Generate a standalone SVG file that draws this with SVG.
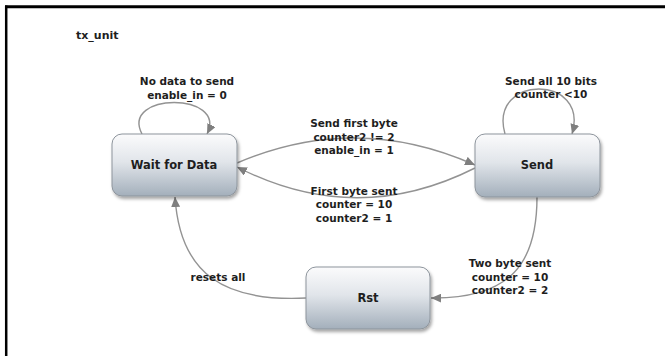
<svg xmlns="http://www.w3.org/2000/svg" width="665" height="356" viewBox="0 0 665 356">
<style>
.node rect{fill:url(#g);stroke:#8d949c;stroke-width:1;filter:url(#sh)}
.nl{font-family:"DejaVu Sans","Verdana",sans-serif;font-weight:bold;font-size:11.5px;fill:#1e1e1e;text-anchor:middle}
.el{font-family:"DejaVu Sans","Verdana",sans-serif;font-weight:bold;font-size:10.5px;fill:#1e1e1e;text-anchor:middle}
.edge{fill:none;stroke:#939393;stroke-width:1.4;marker-end:url(#ah)}
.frame{stroke:#000;fill:none}
</style>
<defs>
<linearGradient id="g" x1="0" y1="0" x2="0" y2="1">
<stop offset="0" stop-color="#fbfbfc"/>
<stop offset="0.45" stop-color="#e1e5ea"/>
<stop offset="1" stop-color="#a3afbb"/>
</linearGradient>
<filter id="sh" x="-10%" y="-10%" width="130%" height="140%">
<feDropShadow dx="1.5" dy="2.5" stdDeviation="1.8" flood-color="#000" flood-opacity="0.35"/>
</filter>
<marker id="ah" markerUnits="userSpaceOnUse" markerWidth="11" markerHeight="9" refX="10" refY="4.5" orient="auto">
<path d="M0,0 L10,4.5 L0,9 z" fill="#7f7f7f"/>
</marker>
</defs>
<rect width="665" height="356" fill="#fff"/>
<line class="frame" x1="5" y1="6.8" x2="665" y2="6.8" stroke-width="3"/>
<line class="frame" x1="6.2" y1="5.5" x2="6.2" y2="356" stroke-width="2.5"/>
<text x="76" y="39" font-family="DejaVu Sans, Verdana, sans-serif" font-weight="bold" font-size="11px" fill="#1e1e1e">tx_unit</text>

<g id="connectors">
<path class="edge" d="M142,134 C120,92 228,92 207,134"/>
<path class="edge" d="M505,134 C488,74 590,74 572,134"/>
<path class="edge" d="M237,163 Q356,112 475,165"/>
<path class="edge" d="M475,168 Q356,228 237,167"/>
<path class="edge" d="M537,197 C537,262 512,299 431,298"/>
<path class="edge" d="M306,298 C225,302 180,275 175,197"/>
<text class="el" x="187" y="85">No data to send</text>
<text class="el" x="187" y="99">enable_in = 0</text>
<text class="el" x="551" y="85">Send all 10 bits</text>
<text class="el" x="551" y="98">counter &lt;10</text>
<text class="el" x="354" y="127">Send first byte</text>
<text class="el" x="354" y="141">counter2 != 2</text>
<text class="el" x="354" y="154">enable_in = 1</text>
<text class="el" x="354" y="195">First byte sent</text>
<text class="el" x="354" y="208">counter = 10</text>
<text class="el" x="354" y="222">counter2 = 1</text>
<text class="el" x="510" y="267">Two byte sent</text>
<text class="el" x="510" y="281">counter = 10</text>
<text class="el" x="510" y="294">counter2 = 2</text>
<text class="el" x="218" y="281">resets all</text>
</g>

<g id="wait" class="node">
<rect x="112" y="134" width="125" height="62" rx="10"/>
<text class="nl" x="174" y="169">Wait for Data</text>
</g>
<g id="send" class="node">
<rect x="475" y="134" width="125" height="63" rx="10"/>
<text class="nl" x="537" y="169">Send</text>
</g>
<g id="rst" class="node">
<rect x="306" y="267" width="124" height="62" rx="10"/>
<text class="nl" x="368" y="302">Rst</text>
</g>
</svg>
